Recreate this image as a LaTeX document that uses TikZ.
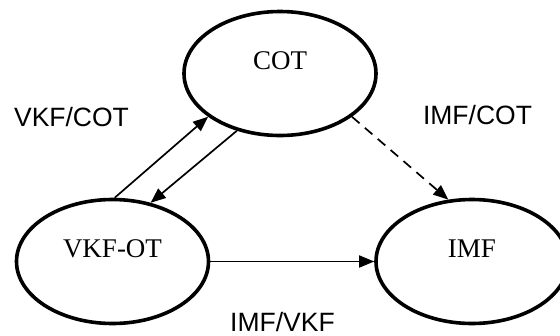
\documentclass[tikz,border=0pt]{standalone}
\usepackage{fontspec}
\setmainfont{Liberation Serif}
\newfontfamily\labelfont{Liberation Sans}
\usetikzlibrary{shapes.geometric,arrows.meta}
\begin{document}
\begin{tikzpicture}[x=1pt,y=-1pt,
  state/.style={ellipse, draw, line width=3.6pt, minimum width=192pt, minimum height=124pt,
    inner sep=0pt, font=\fontsize{27}{30}\selectfont, text height=10pt, text depth=19pt},
  conn/.style={line width=1.7pt, -{Triangle[length=15pt,width=12pt]}},
  lbl/.style={font=\labelfont\fontsize{26.5}{30}\selectfont, inner sep=0pt}]
\useasboundingbox (0,0) rectangle (560,335);
\node[state] (cot) at (280,73.5) {COT};
\node[state] (vkf) at (112.5,261.5) {VKF-OT};
\node[state] (imf) at (472,261.5) {IMF};
\draw[conn] (vkf.88) -- (cot.211);
\draw[conn] (cot.233) -- (vkf.57);
\draw[conn] (vkf.east) -- (imf.west);
\draw[conn, dash pattern=on 10pt off 7pt] (cot.329) -- (imf.111.5);
\node[lbl] (l1) at (71.5,117) {VKF/COT};
\node[lbl] (l2) at (477.5,115.5) {IMF/COT};
\node[lbl] (l3) at (282.5,322) {IMF/VKF};
\end{tikzpicture}
\end{document}
